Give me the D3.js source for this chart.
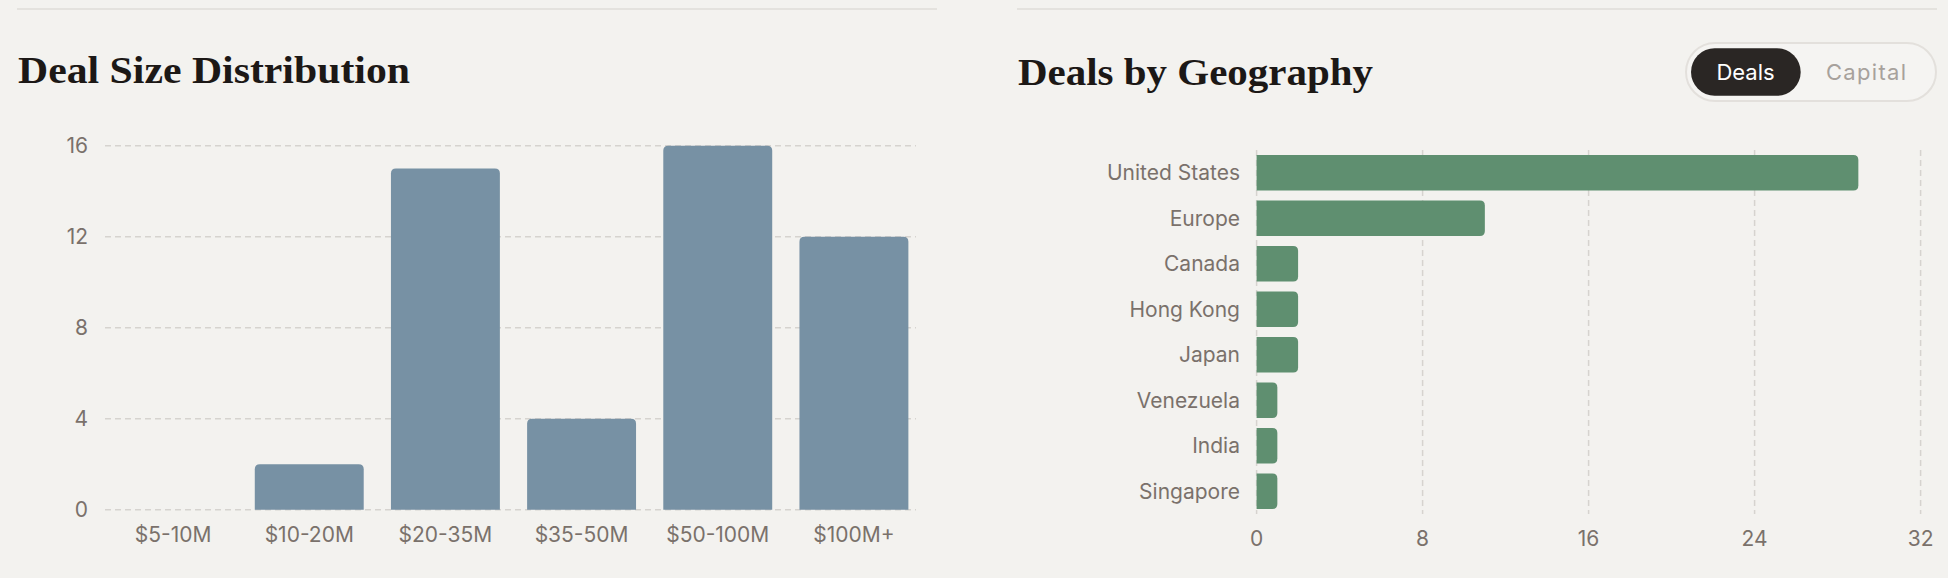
<!DOCTYPE html>
<html>
<head>
<meta charset="utf-8">
<script src="https://cdn.jsdelivr.net/npm/d3@7"></script>
<style>
  html, body { margin: 0; padding: 0; background: #f3f2ef; }
  svg { display: block; }
</style>
</head>
<body>
<svg id="chart" width="1948" height="578"></svg>
<script>
// ---- Data ----
const sizeCategories = ["$5-10M", "$10-20M", "$20-35M", "$35-50M", "$50-100M", "$100M+"];
const sizeValues = [0, 2, 15, 4, 16, 12];
const sizeTicks = [0, 4, 8, 12, 16];

const geoCategories = ["United States", "Europe", "Canada", "Hong Kong", "Japan", "Venezuela", "India", "Singapore"];
const geoValues = [29, 11, 2, 2, 2, 1, 1, 1];
const geoTicks = [0, 8, 16, 24, 32];

const toggleLabels = ["Deals", "Capital"];

// ---- Styles ----
const BG = "#f3f2ef";
const TITLE = "#1c1816";
const MUTED = "#7a716b";
const GRID = "#d6d3cf";
const BLUE = "#7791a4";
const GREEN = "#5f8f70";
const SANS = "Inter, 'Noto Sans', sans-serif";
const SERIF = "'Liberation Serif', 'DejaVu Serif', serif";

const svg = d3.select("#chart");
svg.append("rect").attr("width", 1948).attr("height", 578).attr("fill", BG);

// Top divider lines
svg.append("line").attr("x1", 17).attr("x2", 937).attr("y1", 9).attr("y2", 9)
  .attr("stroke", "#e4e2de").attr("stroke-width", 2);
svg.append("line").attr("x1", 1017).attr("x2", 1937).attr("y1", 9).attr("y2", 9)
  .attr("stroke", "#e4e2de").attr("stroke-width", 2);

// Titles
svg.append("text").attr("x", 18).attr("y", 83)
  .attr("font-family", SERIF).attr("font-weight", 700).attr("font-size", 38)
  .attr("fill", TITLE).attr("textLength", 392).attr("lengthAdjust", "spacingAndGlyphs")
  .text("Deal Size Distribution");
svg.append("text").attr("x", 1018).attr("y", 85)
  .attr("font-family", SERIF).attr("font-weight", 700).attr("font-size", 38)
  .attr("fill", TITLE).attr("textLength", 355).attr("lengthAdjust", "spacingAndGlyphs")
  .text("Deals by Geography");

// ---- Left chart: vertical bars ----
const x1 = d3.scaleBand().domain(sizeCategories).range([105, 922]).paddingInner(0.2).paddingOuter(0.1);
const y1 = d3.scaleLinear().domain([0, 16]).range([509.7, 145.7]);

const g1 = svg.append("g");
g1.selectAll("line.grid").data(sizeTicks).join("line")
  .attr("x1", 105).attr("x2", 916)
  .attr("y1", d => y1(d)).attr("y2", d => y1(d))
  .attr("stroke", GRID).attr("stroke-width", 1.5).attr("stroke-dasharray", "6,4");

g1.selectAll("text.ytick").data(sizeTicks).join("text")
  .attr("x", 88).attr("y", d => y1(d) + 7.5)
  .attr("text-anchor", "end").attr("font-family", SANS).attr("font-size", 21)
  .attr("fill", MUTED).text(d => d);

function topRoundedBar(x, y, w, h, r) {
  if (h <= 0) return "";
  r = Math.min(r, h, w / 2);
  const p = d3.path();
  p.moveTo(x, y + h);
  p.lineTo(x, y + r);
  p.quadraticCurveTo(x, y, x + r, y);
  p.lineTo(x + w - r, y);
  p.quadraticCurveTo(x + w, y, x + w, y + r);
  p.lineTo(x + w, y + h);
  p.closePath();
  return p.toString();
}
function rightRoundedBar(x, y, w, h, r) {
  if (w <= 0) return "";
  r = Math.min(r, w, h / 2);
  const p = d3.path();
  p.moveTo(x, y);
  p.lineTo(x + w - r, y);
  p.quadraticCurveTo(x + w, y, x + w, y + r);
  p.lineTo(x + w, y + h - r);
  p.quadraticCurveTo(x + w, y + h, x + w - r, y + h);
  p.lineTo(x, y + h);
  p.closePath();
  return p.toString();
}

g1.selectAll("path.bar").data(sizeCategories.map((c, i) => ({ c, v: sizeValues[i] }))).join("path")
  .attr("d", d => topRoundedBar(x1(d.c), y1(d.v), x1.bandwidth(), y1(0) - y1(d.v), 5))
  .attr("fill", BLUE);

g1.selectAll("text.xtick").data(sizeCategories).join("text")
  .attr("x", d => x1(d) + x1.bandwidth() / 2).attr("y", 541.7)
  .attr("text-anchor", "middle").attr("font-family", SANS).attr("font-size", 21)
  .attr("fill", MUTED).text(d => d);

// ---- Right chart: horizontal bars ----
const x2 = d3.scaleLinear().domain([0, 32]).range([1256.6, 1920.6]);
const y2 = d3.scaleBand().domain(geoCategories).range([150, 514]).paddingInner(0.22).paddingOuter(0.11);

const g2 = svg.append("g");
g2.selectAll("line.grid").data(geoTicks).join("line")
  .attr("x1", d => x2(d)).attr("x2", d => x2(d))
  .attr("y1", 150).attr("y2", 514)
  .attr("stroke", GRID).attr("stroke-width", 1.5).attr("stroke-dasharray", "6,4");

g2.selectAll("path.bar").data(geoCategories.map((c, i) => ({ c, v: geoValues[i] }))).join("path")
  .attr("d", d => rightRoundedBar(x2(0), y2(d.c), x2(d.v) - x2(0), y2.bandwidth(), 5))
  .attr("fill", GREEN);

g2.selectAll("text.ylab").data(geoCategories).join("text")
  .attr("x", 1240).attr("y", d => y2(d) + y2.bandwidth() / 2 + 7.5)
  .attr("text-anchor", "end").attr("font-family", SANS).attr("font-size", 21)
  .attr("fill", MUTED).text(d => d);

g2.selectAll("text.xtick").data(geoTicks).join("text")
  .attr("x", d => x2(d)).attr("y", 546)
  .attr("text-anchor", "middle").attr("font-family", SANS).attr("font-size", 21)
  .attr("fill", MUTED).text(d => d);

// ---- Toggle ----
const tg = svg.append("g");
tg.append("rect").attr("x", 1686).attr("y", 43).attr("width", 250).attr("height", 58)
  .attr("rx", 29).attr("fill", "#f5f4f2").attr("stroke", "#e3e0dc").attr("stroke-width", 2);
tg.append("rect").attr("x", 1691).attr("y", 48.3).attr("width", 109.7).attr("height", 47.4)
  .attr("rx", 23.7).attr("fill", "#2a2624");
tg.append("text").attr("x", 1745.5).attr("y", 80).attr("text-anchor", "middle")
  .attr("font-family", SANS).attr("font-size", 22)
  .attr("fill", "#ffffff").text(toggleLabels[0]);
tg.append("text").attr("x", 1866).attr("y", 80).attr("text-anchor", "middle")
  .attr("font-family", SANS).attr("font-size", 22)
  .attr("fill", "#a7a19c").attr("textLength", 80).attr("lengthAdjust", "spacing")
  .text(toggleLabels[1]);
</script>
</body>
</html>
